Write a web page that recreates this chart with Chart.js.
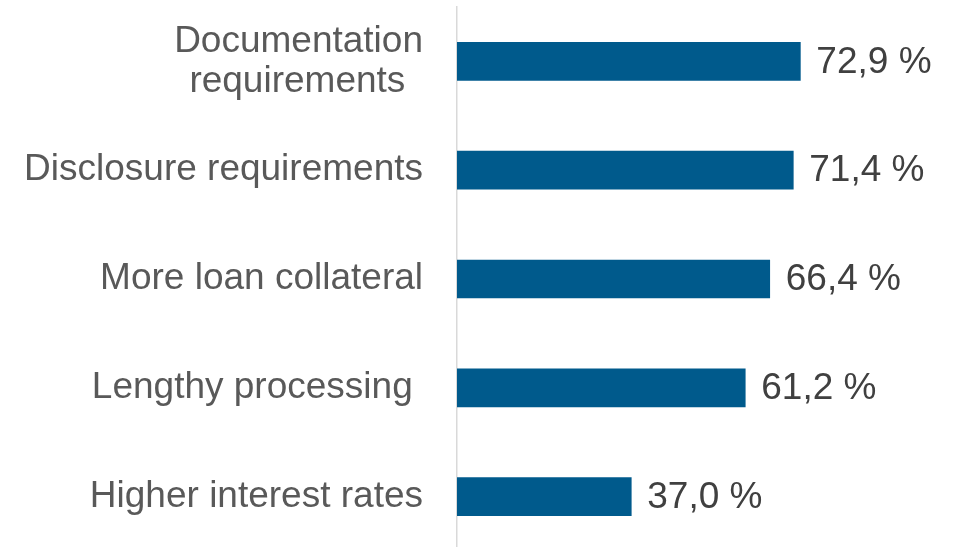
<!DOCTYPE html>
<html>
<head>
<meta charset="utf-8">
<script src="https://cdn.jsdelivr.net/npm/chart.js@4"></script>
<style>
  html, body { margin: 0; padding: 0; background: #fff; overflow: hidden; }
  #wrap { width: 959px; height: 552px; position: relative; }
</style>
</head>
<body>
<div id="wrap"><canvas id="obstacleChart"></canvas></div>
<script>
// Obstacles to bank financing, share of respondents
const categories = [
    ['Documentation', 'requirements \u2009'],
    'Disclosure requirements',
    'More loan collateral',
    'Lengthy processing ',
    'Higher interest rates'
];
const shares = [72.9, 71.4, 66.4, 61.2, 37.0];

const FONT = '"Liberation Sans", Arial, Helvetica, sans-serif';

// draw "72,9 %" style labels just right of each bar
const valueLabels = {
    id: 'valueLabels',
    afterDatasetsDraw(chart) {
        const ctx = chart.ctx;
        const meta = chart.getDatasetMeta(0);
        ctx.save();
        ctx.font = '37px ' + FONT;
        ctx.fillStyle = '#404040';
        ctx.textAlign = 'left';
        ctx.textBaseline = 'middle';
        meta.data.forEach((bar, i) => {
            const txt = shares[i].toFixed(1).replace('.', ',') + ' %';
            ctx.fillText(txt, bar.x + 16, bar.y + 1);
        });
        ctx.restore();
    }
};

new Chart(document.getElementById('obstacleChart'), {
    type: 'bar',
    data: {
        labels: categories,
        datasets: [{
            data: shares,
            backgroundColor: '#005a8c',
            borderWidth: 0,
            barThickness: 38
        }]
    },
    options: {
        indexAxis: 'y',
        responsive: true,
        maintainAspectRatio: false,
        animation: false,
        layout: { padding: { top: 7, bottom: 1, left: 0, right: 31 } },
        plugins: {
            legend: { display: false },
            tooltip: { enabled: false }
        },
        scales: {
            x: {
                display: false,
                min: 0,
                max: 100
            },
            y: {
                grid: { display: false, drawTicks: false },
                border: { display: true, color: '#d9d9d9', width: 1.5 },
                ticks: {
                    color: '#595959',
                    padding: 34,
                    font: { family: FONT, size: 37, lineHeight: 1.08 }
                },
                afterFit(scale) {
                    scale.width = 457;
                    scale.paddingTop = 0;
                    scale.paddingBottom = 0;
                }
            }
        }
    },
    plugins: [valueLabels]
});
</script>
</body>
</html>
